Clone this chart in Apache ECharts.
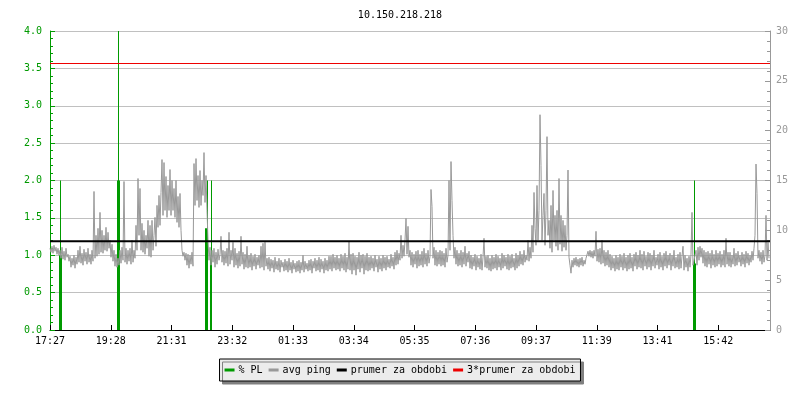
<!DOCTYPE html>
<html>
<head>
<meta charset="utf-8">
<script src="https://cdn.jsdelivr.net/npm/echarts@6/dist/echarts.min.js"></script>
<style>
html,body{margin:0;padding:0;background:#fff;}
#c{width:800px;height:400px;}
</style>
</head>
<body>
<div id="c"></div>
<script>
// ---- data ----
const titleText = '10.150.218.218';
const tickLabels = ['17:27','19:28','21:31','23:32','01:33','03:34','05:35','07:36','09:37','11:39','13:41','15:42'];
const tickStepMin = 121.5;      // minutes between time labels
const spanMin = 1440;           // 24 h window
const sampleStepMin = 2;        // minutes between avg ping samples

// avg ping [ms], one value every 2 minutes from 17:27
const pingMs = [
  8.2,7.8,8.4,7.7,8.5,7.9,8.3,7.6,8.2,7.5,
  8.0,7.2,8.3,7.1,7.9,7.0,8.2,7.3,7.6,6.9,
  7.4,6.3,7.2,6.5,7.5,6.2,7.3,6.6,8.0,6.8,
  8.4,6.7,7.7,6.5,8.1,6.9,7.8,6.6,8.2,6.8,
  7.6,6.6,8.0,6.9,13.9,7.2,9.5,7.4,10.2,7.6,
  11.8,7.8,10.0,7.7,9.5,8.0,10.3,7.9,9.8,8.2,
  9.0,7.3,8.6,6.9,8.0,6.4,7.6,6.3,7.2,6.5,
  8.0,6.7,8.3,7.0,14.9,6.8,8.2,6.6,8.0,6.9,
  8.2,6.6,9.0,6.8,8.0,7.2,10.5,8.0,15.2,9.5,
  14.2,8.0,10.7,7.8,10.0,7.6,9.5,8.2,11.0,7.4,
  10.5,7.3,11.0,8.0,9.5,11.3,8.4,12.5,10.3,13.5,
  10.5,13.8,17.1,11.5,16.8,12.0,15.4,11.3,14.5,12.0,
  16.1,11.5,15.0,12.0,14.2,11.3,15.0,10.8,13.4,10.3,
  13.7,10.0,8.0,7.4,7.8,7.0,7.7,6.5,7.6,6.2,
  7.5,6.6,7.8,6.4,16.7,12.5,17.2,13.0,15.5,12.3,
  16.0,12.5,15.0,13.5,17.8,12.8,15.5,12.0,9.0,7.0,
  8.3,6.5,8.0,6.8,8.2,6.3,7.8,6.6,8.1,7.0,
  7.6,9.4,6.8,8.0,6.5,7.9,6.7,8.2,6.4,9.8,
  6.6,8.0,7.0,8.8,6.3,8.2,6.5,7.7,6.2,7.9,
  6.4,9.4,6.6,7.8,6.1,7.6,6.3,8.4,6.2,7.5,
  6.3,7.7,6.0,7.4,6.4,7.6,6.1,7.3,6.5,7.5,
  6.2,8.4,6.3,8.7,6.0,8.8,6.4,7.2,6.1,7.3,
  5.9,7.1,6.2,7.0,5.8,7.3,6.1,6.9,6.0,7.2,
  5.8,7.0,6.3,6.8,5.9,7.1,6.0,6.9,5.8,7.2,
  6.0,6.8,5.7,7.0,6.1,6.7,5.8,6.9,5.9,7.0,
  5.7,6.8,6.0,7.5,5.8,6.9,6.1,6.7,5.9,7.0,
  6.0,7.1,5.7,6.9,6.2,7.2,5.9,7.0,6.0,7.3,
  5.8,7.1,6.1,6.9,5.7,7.2,6.0,7.0,5.9,7.4,
  6.1,7.4,5.9,7.6,6.2,7.3,6.0,7.5,6.1,7.2,
  5.9,7.6,6.2,7.4,6.0,7.7,5.8,7.3,6.1,8.9,
  6.0,7.6,5.6,7.7,6.0,7.4,5.5,7.3,6.1,7.8,
  5.8,7.5,6.2,7.6,5.6,7.4,6.0,7.7,5.9,7.3,
  6.0,7.4,6.2,7.2,5.9,7.5,6.3,7.1,5.8,7.4,
  6.1,7.2,5.9,7.5,6.2,7.3,6.0,7.4,6.3,7.1,
  6.2,7.6,6.4,7.3,6.1,7.8,6.5,8.0,6.6,7.7,
  7.0,9.5,7.2,8.5,7.4,9.0,11.2,7.6,10.4,7.3,
  8.0,6.5,7.8,6.3,7.6,6.6,7.9,6.2,8.0,6.4,
  7.6,6.5,7.9,6.3,8.2,6.6,7.7,6.4,8.0,6.7,
  7.4,14.1,12.4,7.2,8.3,6.5,8.0,6.4,7.8,6.6,
  8.0,6.4,7.9,6.5,7.7,6.3,8.2,6.8,7.5,15.0,
  8.0,16.9,13.0,9.5,7.2,8.3,6.6,8.0,6.4,7.7,
  6.5,8.0,6.3,7.8,6.6,8.4,6.4,7.7,6.8,7.9,
  6.2,7.5,6.1,7.3,6.4,7.6,6.0,7.4,6.3,7.2,
  6.1,7.6,6.0,7.3,9.2,6.3,7.4,6.2,7.5,6.0,
  7.2,5.9,7.5,6.1,7.3,6.2,7.6,6.0,7.4,6.3,
  7.2,6.0,7.7,6.2,7.5,6.4,7.3,6.1,7.6,6.0,
  7.4,6.2,7.6,6.3,7.2,6.0,7.7,6.2,7.5,6.4,
  7.9,6.6,7.6,6.5,8.0,6.8,7.5,7.0,9.0,6.9,
  8.3,7.2,10.5,7.8,13.8,10.2,8.5,14.5,9.0,12.0,
  21.6,16.5,9.0,11.5,13.7,8.5,12.0,19.4,9.5,11.0,
  8.2,12.5,7.8,14.0,9.0,11.5,8.4,12.0,8.0,15.2,
  8.6,11.5,7.9,11.0,8.3,10.5,8.0,9.5,16.05,7.3,
  6.5,5.7,7.0,6.3,7.2,6.5,7.3,6.4,7.1,6.3,
  7.2,6.5,7.3,6.4,7.0,6.6,7.2,7.3,7.9,7.4,
  8.0,7.3,7.9,7.2,8.0,7.4,9.9,6.9,8.1,6.8,
  8.2,6.6,9.0,6.7,8.0,6.4,7.8,6.5,8.0,6.3,
  7.6,6.0,7.4,6.2,7.2,5.9,7.5,6.1,7.3,6.0,
  7.6,6.3,7.4,6.0,7.7,6.2,7.3,5.9,7.5,6.1,
  7.7,6.2,7.3,5.9,7.6,6.4,7.8,6.1,7.5,6.3,
  8.0,6.2,7.6,6.0,7.9,6.4,7.4,6.1,7.8,6.3,
  7.7,6.0,7.5,6.4,8.0,6.2,7.3,6.5,7.6,6.1,
  7.8,6.3,7.4,6.0,7.7,6.4,7.9,6.2,7.5,6.5,
  7.7,6.0,7.5,6.4,8.0,6.2,7.3,6.3,7.6,6.1,
  7.8,6.2,7.4,8.4,6.0,7.5,6.3,7.2,5.9,7.4,
  6.3,7.6,11.8,6.5,7.0,6.8,8.0,6.5,8.3,7.0,
  8.4,7.3,8.2,6.7,8.0,6.4,7.8,6.3,7.9,6.6,
  7.7,6.2,8.0,6.5,7.6,6.3,8.0,6.4,7.7,6.6,
  7.9,6.3,7.6,6.5,8.0,6.3,9.2,6.6,7.8,6.4,
  7.8,6.3,7.5,6.6,8.2,6.4,7.7,6.5,7.9,6.8,
  7.5,6.4,7.8,6.6,7.6,6.3,7.9,6.7,7.7,6.5,
  7.5,6.8,7.9,7.0,8.2,9.5,16.65,13.7,7.2,8.0,
  6.9,7.8,6.6,8.0,6.8,7.5,11.5,7.0,8.8,7.2
];

// packet loss [%]: minute offset from 17:27 and value
const plMin = [19, 21, 23, 135, 137, 139, 311, 313, 315, 321, 323, 1287, 1289, 1291];
const plVal = [1.0, 2.0, 1.0, 2.0, 4.0, 2.0, 1.36, 1.36, 2.0, 1.0, 2.0, 0.89, 2.0, 0.89];

// average over the period [ms]
const prumerMs = 8.913;

// ---- build ----
const pingData = pingMs.map((v, i) => [i * sampleStepMin, v]);
const plData = plMin.map((t, i) => [t, plVal[i]]);
const prumerData = [[0, prumerMs], [spanMin, prumerMs]];
const prumer3Data = [[0, 3 * prumerMs], [spanMin, 3 * prumerMs]];

const mono = 'DejaVu Sans Mono';
const green = '#009a00';
const grey = '#999999';

const chart = echarts.init(document.getElementById('c'), null, {renderer: 'canvas'});
chart.setOption({
  animation: false,
  backgroundColor: '#ffffff',
  title: {
    text: titleText, left: 'center', top: 5,
    textStyle: {fontFamily: mono, fontSize: 10, fontWeight: 'normal', color: '#000'}
  },
  grid: {left: 50, top: 31, width: 720, height: 299, containLabel: false},
  legend: {
    data: ['% PL', 'avg ping', 'prumer za obdobi', '3*prumer za obdobi'],
    left: 'center', top: 359,
    icon: 'rect', itemWidth: 10, itemHeight: 3, itemGap: 6,
    padding: [6, 5, 6, 5],
    backgroundColor: '#ececec', borderColor: '#000', borderWidth: 1,
    shadowColor: '#808080', shadowBlur: 0, shadowOffsetX: 3, shadowOffsetY: 3,
    textStyle: {fontFamily: mono, fontSize: 10, color: '#000', padding: [0, 0, 0, -1]}
  },
  xAxis: {
    type: 'value', min: 0, max: spanMin, interval: tickStepMin,
    axisLine: {lineStyle: {color: '#000', width: 1}},
    axisTick: {inside: true, length: 5, lineStyle: {color: '#000'}},
    axisLabel: {
      fontFamily: mono, fontSize: 10, color: '#000', margin: 6,
      showMaxLabel: false,
      formatter: v => {
        const k = v / tickStepMin;
        return Number.isInteger(k) && k < tickLabels.length ? tickLabels[k] : '';
      }
    },
    splitLine: {show: false}
  },
  yAxis: [{
    type: 'value', min: 0, max: 4, interval: 0.5, position: 'left',
    axisLine: {show: true, lineStyle: {color: green}},
    axisTick: {show: true, inside: true, length: 5, lineStyle: {color: green}},
    minorTick: {show: true, splitNumber: 5, length: 3, lineStyle: {color: green}},
    axisLabel: {fontFamily: mono, fontSize: 10, color: green, margin: 8, formatter: v => v.toFixed(1)},
    splitLine: {show: true, lineStyle: {color: '#c0c0c0', width: 1}}
  }, {
    type: 'value', min: 0, max: 30, interval: 5, position: 'right',
    axisLine: {show: true, lineStyle: {color: grey}},
    axisTick: {show: true, inside: true, length: 5, lineStyle: {color: grey}},
    minorTick: {show: true, splitNumber: 5, length: 3, lineStyle: {color: grey}},
    axisLabel: {fontFamily: mono, fontSize: 10, color: grey, margin: 6},
    splitLine: {show: false}
  }],
  series: [{
    name: 'avg ping', type: 'line', yAxisIndex: 1, data: pingData,
    showSymbol: false, symbol: 'none', color: grey,
    lineStyle: {color: grey, width: 1}
  }, {
    name: 'prumer za obdobi', type: 'line', yAxisIndex: 1, data: prumerData,
    showSymbol: false, symbol: 'none', color: '#000',
    lineStyle: {color: '#000', width: 2}
  }, {
    name: '% PL', type: 'bar', yAxisIndex: 0, data: plData,
    barWidth: 1, color: green, itemStyle: {color: green}
  }, {
    name: '3*prumer za obdobi', type: 'line', yAxisIndex: 1, data: prumer3Data,
    showSymbol: false, symbol: 'none', color: '#ee0000',
    lineStyle: {color: '#ee0000', width: 1}
  }]
});
</script>
</body>
</html>
